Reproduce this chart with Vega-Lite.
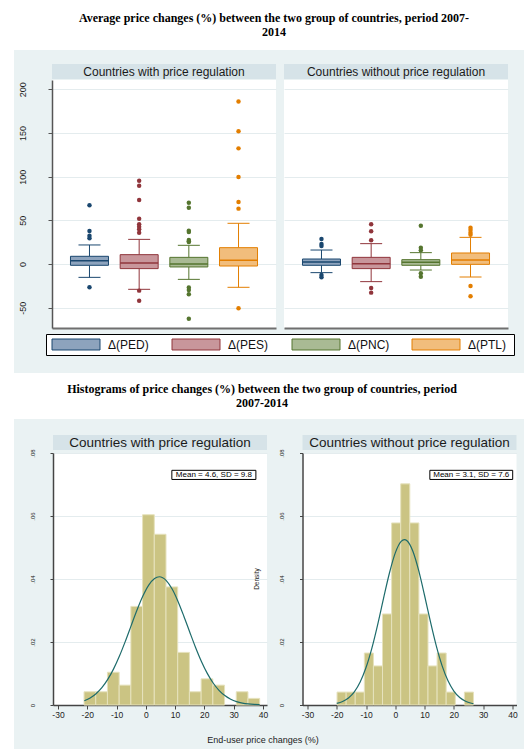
{
  "$schema": "https://vega.github.io/schema/vega-lite/v6.json",
  "background": "#eaf2f3",
  "padding": 0,
  "config": {
    "view": {"stroke": null},
    "font": "Liberation Sans",
    "axis": {"labelFont": "Liberation Sans", "labelOverlap": false, "labelBound": false},
    "axisX": {"labelOverlap": false},
    "axisQuantitative": {"labelOverlap": false},
    "text": {"font": "Liberation Sans"}
  },
  "datasets": {
    "boxstats": [
      {"group": "with", "series": "Δ(PED)", "lo": -15.3, "q1": -1.5, "med": 3.8, "q3": 8.8, "hi": 21.8},
      {"group": "with", "series": "Δ(PES)", "lo": -29, "q1": -5.3, "med": 1.1, "q3": 10.7, "hi": 28.2},
      {"group": "with", "series": "Δ(PNC)", "lo": -17.6, "q1": -3.4, "med": 0, "q3": 7.6, "hi": 21.4},
      {"group": "with", "series": "Δ(PTL)", "lo": -26.7, "q1": -2.3, "med": 4.2, "q3": 18.7, "hi": 46.6},
      {"group": "without", "series": "Δ(PED)", "lo": -9.9, "q1": -1.5, "med": 2.3, "q3": 5.7, "hi": 16},
      {"group": "without", "series": "Δ(PES)", "lo": -20.2, "q1": -5.3, "med": 0.4, "q3": 7.6, "hi": 23.3},
      {"group": "without", "series": "Δ(PNC)", "lo": -6.9, "q1": -1.5, "med": 1.9, "q3": 5, "hi": 13},
      {"group": "without", "series": "Δ(PTL)", "lo": -14.9, "q1": -0.4, "med": 4.6, "q3": 12.6, "hi": 30.5}
    ],
    "outliers": [
      {"group": "with", "series": "Δ(PED)", "value": 67.2},
      {"group": "with", "series": "Δ(PED)", "value": 37.8},
      {"group": "with", "series": "Δ(PED)", "value": 32.4},
      {"group": "with", "series": "Δ(PED)", "value": 29.4},
      {"group": "with", "series": "Δ(PED)", "value": -26.7},
      {"group": "with", "series": "Δ(PES)", "value": 95.4},
      {"group": "with", "series": "Δ(PES)", "value": 89.7},
      {"group": "with", "series": "Δ(PES)", "value": 73.3},
      {"group": "with", "series": "Δ(PES)", "value": 51.9},
      {"group": "with", "series": "Δ(PES)", "value": 45.4},
      {"group": "with", "series": "Δ(PES)", "value": 42.7},
      {"group": "with", "series": "Δ(PES)", "value": 39.7},
      {"group": "with", "series": "Δ(PES)", "value": 35.9},
      {"group": "with", "series": "Δ(PES)", "value": -30.5},
      {"group": "with", "series": "Δ(PES)", "value": -42},
      {"group": "with", "series": "Δ(PNC)", "value": 70.2},
      {"group": "with", "series": "Δ(PNC)", "value": 64.5},
      {"group": "with", "series": "Δ(PNC)", "value": 38.2},
      {"group": "with", "series": "Δ(PNC)", "value": 36.5},
      {"group": "with", "series": "Δ(PNC)", "value": 27.5},
      {"group": "with", "series": "Δ(PNC)", "value": 26},
      {"group": "with", "series": "Δ(PNC)", "value": 25.2},
      {"group": "with", "series": "Δ(PNC)", "value": -27},
      {"group": "with", "series": "Δ(PNC)", "value": -29.8},
      {"group": "with", "series": "Δ(PNC)", "value": -34.7},
      {"group": "with", "series": "Δ(PNC)", "value": -62.6},
      {"group": "with", "series": "Δ(PTL)", "value": 186},
      {"group": "with", "series": "Δ(PTL)", "value": 152},
      {"group": "with", "series": "Δ(PTL)", "value": 132.4},
      {"group": "with", "series": "Δ(PTL)", "value": 99.6},
      {"group": "with", "series": "Δ(PTL)", "value": 71},
      {"group": "with", "series": "Δ(PTL)", "value": 63.4},
      {"group": "with", "series": "Δ(PTL)", "value": -50.8},
      {"group": "without", "series": "Δ(PED)", "value": 28.6},
      {"group": "without", "series": "Δ(PED)", "value": 22.9},
      {"group": "without", "series": "Δ(PED)", "value": 20.6},
      {"group": "without", "series": "Δ(PED)", "value": -12.6},
      {"group": "without", "series": "Δ(PED)", "value": -15.3},
      {"group": "without", "series": "Δ(PES)", "value": 45.4},
      {"group": "without", "series": "Δ(PES)", "value": 37.4},
      {"group": "without", "series": "Δ(PES)", "value": 27.1},
      {"group": "without", "series": "Δ(PES)", "value": -27.5},
      {"group": "without", "series": "Δ(PES)", "value": -32.8},
      {"group": "without", "series": "Δ(PNC)", "value": 43.9},
      {"group": "without", "series": "Δ(PNC)", "value": 18.7},
      {"group": "without", "series": "Δ(PNC)", "value": 15.6},
      {"group": "without", "series": "Δ(PNC)", "value": -10.7},
      {"group": "without", "series": "Δ(PNC)", "value": -14.5},
      {"group": "without", "series": "Δ(PTL)", "value": 41.6},
      {"group": "without", "series": "Δ(PTL)", "value": 38.9},
      {"group": "without", "series": "Δ(PTL)", "value": 35.9},
      {"group": "without", "series": "Δ(PTL)", "value": 33.6},
      {"group": "without", "series": "Δ(PTL)", "value": -25.2},
      {"group": "without", "series": "Δ(PTL)", "value": -37}
    ],
    "hist": [
      {"group": "with", "bin_start": -21.1, "bin_end": -17.1, "density": 0.0042},
      {"group": "with", "bin_start": -17.1, "bin_end": -13.1, "density": 0.0042},
      {"group": "with", "bin_start": -13.1, "bin_end": -9.1, "density": 0.0104},
      {"group": "with", "bin_start": -9.1, "bin_end": -5.1, "density": 0.0063},
      {"group": "with", "bin_start": -5.1, "bin_end": -1.1, "density": 0.0313},
      {"group": "with", "bin_start": -1.1, "bin_end": 2.9, "density": 0.0604},
      {"group": "with", "bin_start": 2.9, "bin_end": 6.9, "density": 0.0542},
      {"group": "with", "bin_start": 6.9, "bin_end": 10.9, "density": 0.0375},
      {"group": "with", "bin_start": 10.9, "bin_end": 14.9, "density": 0.0167},
      {"group": "with", "bin_start": 14.9, "bin_end": 18.9, "density": 0.0042},
      {"group": "with", "bin_start": 18.9, "bin_end": 22.9, "density": 0.0083},
      {"group": "with", "bin_start": 22.9, "bin_end": 26.9, "density": 0.0063},
      {"group": "with", "bin_start": 30.9, "bin_end": 34.9, "density": 0.0042},
      {"group": "with", "bin_start": 34.9, "bin_end": 38.9, "density": 0.0021},
      {"group": "without", "bin_start": -19.9, "bin_end": -16.79, "density": 0.0041},
      {"group": "without", "bin_start": -16.79, "bin_end": -13.69, "density": 0.0041},
      {"group": "without", "bin_start": -13.69, "bin_end": -10.58, "density": 0.0041},
      {"group": "without", "bin_start": -10.58, "bin_end": -7.47, "density": 0.0165},
      {"group": "without", "bin_start": -7.47, "bin_end": -4.37, "density": 0.0124},
      {"group": "without", "bin_start": -4.37, "bin_end": -1.26, "density": 0.0289},
      {"group": "without", "bin_start": -1.26, "bin_end": 1.85, "density": 0.0578},
      {"group": "without", "bin_start": 1.85, "bin_end": 4.95, "density": 0.0702},
      {"group": "without", "bin_start": 4.95, "bin_end": 8.06, "density": 0.0578},
      {"group": "without", "bin_start": 8.06, "bin_end": 11.17, "density": 0.0289},
      {"group": "without", "bin_start": 11.17, "bin_end": 14.28, "density": 0.0124},
      {"group": "without", "bin_start": 14.28, "bin_end": 17.38, "density": 0.0165},
      {"group": "without", "bin_start": 17.38, "bin_end": 20.49, "density": 0.0041},
      {"group": "without", "bin_start": 23.6, "bin_end": 26.7, "density": 0.0041}
    ],
    "curve": [
      {"group": "with", "x": -21, "density": 0.00134},
      {"group": "with", "x": -19, "density": 0.00224},
      {"group": "with", "x": -17, "density": 0.00359},
      {"group": "with", "x": -15, "density": 0.00551},
      {"group": "with", "x": -13, "density": 0.00812},
      {"group": "with", "x": -11, "density": 0.01147},
      {"group": "with", "x": -9, "density": 0.01554},
      {"group": "with", "x": -7, "density": 0.0202},
      {"group": "with", "x": -5, "density": 0.0252},
      {"group": "with", "x": -3, "density": 0.03014},
      {"group": "with", "x": -1, "density": 0.03458},
      {"group": "with", "x": 1, "density": 0.03806},
      {"group": "with", "x": 3, "density": 0.04017},
      {"group": "with", "x": 4.6, "density": 0.04071},
      {"group": "with", "x": 7, "density": 0.03951},
      {"group": "with", "x": 9, "density": 0.03681},
      {"group": "with", "x": 11, "density": 0.03289},
      {"group": "with", "x": 13, "density": 0.0282},
      {"group": "with", "x": 15, "density": 0.02318},
      {"group": "with", "x": 17, "density": 0.01828},
      {"group": "with", "x": 19, "density": 0.01383},
      {"group": "with", "x": 21, "density": 0.01004},
      {"group": "with", "x": 23, "density": 0.00699},
      {"group": "with", "x": 25, "density": 0.00467},
      {"group": "with", "x": 27, "density": 0.00299},
      {"group": "with", "x": 29, "density": 0.00184},
      {"group": "with", "x": 31, "density": 0.00108},
      {"group": "with", "x": 33, "density": 0.00061},
      {"group": "with", "x": 35, "density": 0.00033},
      {"group": "with", "x": 37, "density": 0.00017},
      {"group": "with", "x": 38.9, "density": 0.00009},
      {"group": "without", "x": -20, "density": 0.00052},
      {"group": "without", "x": -18, "density": 0.00111},
      {"group": "without", "x": -16, "density": 0.00223},
      {"group": "without", "x": -14, "density": 0.00418},
      {"group": "without", "x": -12, "density": 0.0073},
      {"group": "without", "x": -10, "density": 0.01189},
      {"group": "without", "x": -8, "density": 0.01807},
      {"group": "without", "x": -6, "density": 0.02563},
      {"group": "without", "x": -4, "density": 0.03393},
      {"group": "without", "x": -2, "density": 0.04191},
      {"group": "without", "x": 0, "density": 0.0483},
      {"group": "without", "x": 2, "density": 0.05194},
      {"group": "without", "x": 3.1, "density": 0.05249},
      {"group": "without", "x": 4, "density": 0.05212},
      {"group": "without", "x": 6, "density": 0.0488},
      {"group": "without", "x": 8, "density": 0.04264},
      {"group": "without", "x": 10, "density": 0.03476},
      {"group": "without", "x": 12, "density": 0.02644},
      {"group": "without", "x": 14, "density": 0.01876},
      {"group": "without", "x": 16, "density": 0.01243},
      {"group": "without", "x": 18, "density": 0.00768},
      {"group": "without", "x": 20, "density": 0.00443},
      {"group": "without", "x": 22, "density": 0.00238},
      {"group": "without", "x": 24, "density": 0.0012},
      {"group": "without", "x": 26, "density": 0.00056},
      {"group": "without", "x": 26.7, "density": 0.0004}
    ],
    "notes": [
      {"group": "with", "label": "Mean = 4.6, SD = 9.8"},
      {"group": "without", "label": "Mean = 3.1, SD = 7.6"}
    ],
    "legend": [
      {"series": "Δ(PED)"},
      {"series": "Δ(PES)"},
      {"series": "Δ(PNC)"},
      {"series": "Δ(PTL)"}
    ]
  },
  "spacing": 0,
  "hconcat": [
    {"width": 14, "height": 749, "view": {"fill": "white"}, "data": {"values": []}, "mark": "point", "encoding": {}},
    {
      "spacing": 0,
      "bounds": "full",
      "vconcat": [
        {
          "width": 510, "height": 50, "view": {"fill": "white"},
          "data": {"values": [{"k": 1}]},
          "mark": {"type": "text", "text": ["Average price changes (%) between the two group of countries, period 2007-", "2014"], "font": "Liberation Serif", "fontWeight": "bold", "fontSize": 12, "lineHeight": 14, "dx": 5, "dy": -7, "color": "black"},
          "encoding": {}
        },
        {"width": 1, "height": 14, "data": {"values": []}, "mark": "point", "encoding": {}},
        {
          "spacing": 0,
          "bounds": "full",
          "hconcat": [
            {"width": 1, "height": 1, "data": {"values": []}, "mark": "point", "encoding": {}},
            {
              "spacing": 8,
              "bounds": "full",
              "hconcat": [
                {
                  "spacing": 1,
                  "bounds": "flush",
                  "vconcat": [
                    {
                      "width": 224, "height": 15, "view": {"fill": "#d6e3e8"},
                      "data": {"values": [{"title": "Countries with price regulation"}]},
                      "mark": {"type": "text", "fontSize": 12, "color": "#1a1a1a"},
                      "encoding": {"text": {"field": "title"}}
                    },
                    {
                      "width": 224, "height": 248, "view": {"fill": "white"},
                      "data": {"name": "boxstats"},
                      "transform": [{"filter": "datum.group == 'with'"}],
                      "layer": [
                        {"mark": {"type": "rule", "strokeWidth": 1, "opacity": 1},
                         "encoding": {
                           "x": {"field": "series", "type": "nominal", "scale": {"type": "band", "domain": ["Δ(PED)", "Δ(PES)", "Δ(PNC)", "Δ(PTL)"], "paddingInner": 0.235, "paddingOuter": 0.372},
                                 "axis": {"labels": false, "ticks": false, "title": null, "grid": false, "domainColor": "#6f6f6f", "domainWidth": 2, "minExtent": 0, "maxExtent": 0}},
                           "y": {"field": "lo", "type": "quantitative", "scale": {"domain": [-73.3, 210.7], "nice": false, "zero": false},
                                 "axis": {"values": [-50, 0, 50, 100, 150, 200], "labelExpr": "toString(datum.value)", "labelAngle": 270, "labelAlign": "center", "labelBaseline": "bottom", "labelPadding": 21, "labelFontSize": 9, "labelColor": "#222", "tickSize": 4, "tickColor": "#555", "domainColor": "#555", "domainWidth": 1.5, "grid": true, "gridColor": "#e4ecee", "title": null, "minExtent": 37, "maxExtent": 37}},
                           "y2": {"field": "q1"},
                           "color": {"field": "series", "type": "nominal", "scale": {"domain": ["Δ(PED)", "Δ(PES)", "Δ(PNC)", "Δ(PTL)"], "range": ["#1a476f", "#90353b", "#55752f", "#e37e00"]}, "legend": null}
                         }},
                        {"mark": {"type": "rule", "strokeWidth": 1, "opacity": 1},
                         "encoding": {
                           "x": {"field": "series", "type": "nominal"},
                           "y": {"field": "q3", "type": "quantitative", "scale": {"domain": [-73.3, 210.7], "nice": false, "zero": false}},
                           "y2": {"field": "hi"},
                           "color": {"field": "series", "type": "nominal", "scale": {"domain": ["Δ(PED)", "Δ(PES)", "Δ(PNC)", "Δ(PTL)"], "range": ["#1a476f", "#90353b", "#55752f", "#e37e00"]}, "legend": null}
                         }},
                        {"mark": {"type": "tick", "size": 22, "thickness": 1, "opacity": 1},
                         "encoding": {
                           "x": {"field": "series", "type": "nominal"},
                           "y": {"field": "lo", "type": "quantitative", "scale": {"domain": [-73.3, 210.7], "nice": false, "zero": false}},
                           "color": {"field": "series", "type": "nominal", "scale": {"domain": ["Δ(PED)", "Δ(PES)", "Δ(PNC)", "Δ(PTL)"], "range": ["#1a476f", "#90353b", "#55752f", "#e37e00"]}, "legend": null}
                         }},
                        {"mark": {"type": "tick", "size": 22, "thickness": 1, "opacity": 1},
                         "encoding": {
                           "x": {"field": "series", "type": "nominal"},
                           "y": {"field": "hi", "type": "quantitative", "scale": {"domain": [-73.3, 210.7], "nice": false, "zero": false}},
                           "color": {"field": "series", "type": "nominal", "scale": {"domain": ["Δ(PED)", "Δ(PES)", "Δ(PNC)", "Δ(PTL)"], "range": ["#1a476f", "#90353b", "#55752f", "#e37e00"]}, "legend": null}
                         }},
                        {"mark": {"type": "bar", "strokeWidth": 1, "opacity": 1},
                         "encoding": {
                           "x": {"field": "series", "type": "nominal"},
                           "y": {"field": "q1", "type": "quantitative", "scale": {"domain": [-73.3, 210.7], "nice": false, "zero": false}},
                           "y2": {"field": "q3"},
                           "fill": {"field": "series", "type": "nominal", "scale": {"domain": ["Δ(PED)", "Δ(PES)", "Δ(PNC)", "Δ(PTL)"], "range": ["#8da3bd", "#c8969b", "#a9ba94", "#f1bd7c"]}, "legend": null},
                           "stroke": {"field": "series", "type": "nominal", "scale": {"domain": ["Δ(PED)", "Δ(PES)", "Δ(PNC)", "Δ(PTL)"], "range": ["#1a476f", "#90353b", "#55752f", "#e37e00"]}, "legend": null}
                         }},
                        {"mark": {"type": "tick", "size": 38, "thickness": 1.5, "opacity": 1},
                         "encoding": {
                           "x": {"field": "series", "type": "nominal"},
                           "y": {"field": "med", "type": "quantitative", "scale": {"domain": [-73.3, 210.7], "nice": false, "zero": false}},
                           "color": {"field": "series", "type": "nominal", "scale": {"domain": ["Δ(PED)", "Δ(PES)", "Δ(PNC)", "Δ(PTL)"], "range": ["#1a476f", "#90353b", "#55752f", "#e37e00"]}, "legend": null}
                         }},
                        {"data": {"name": "outliers"},
                         "transform": [{"filter": "datum.group == 'with'"}],
                         "mark": {"type": "point", "filled": true, "size": 20, "opacity": 1},
                         "encoding": {
                           "x": {"field": "series", "type": "nominal"},
                           "y": {"field": "value", "type": "quantitative", "scale": {"domain": [-73.3, 210.7], "nice": false, "zero": false}},
                           "color": {"field": "series", "type": "nominal", "scale": {"domain": ["Δ(PED)", "Δ(PES)", "Δ(PNC)", "Δ(PTL)"], "range": ["#1a476f", "#90353b", "#55752f", "#e37e00"]}, "legend": null}
                         }}
                      ]
                    }
                  ]
                },
                {
                  "spacing": 1,
                  "bounds": "flush",
                  "vconcat": [
                    {
                      "width": 224, "height": 15, "view": {"fill": "#d6e3e8"},
                      "data": {"values": [{"title": "Countries without price regulation"}]},
                      "mark": {"type": "text", "fontSize": 12, "color": "#1a1a1a"},
                      "encoding": {"text": {"field": "title"}}
                    },
                    {
                      "width": 224, "height": 248, "view": {"fill": "white"},
                      "data": {"name": "boxstats"},
                      "transform": [{"filter": "datum.group == 'without'"}],
                      "layer": [
                        {"mark": {"type": "rule", "strokeWidth": 1, "opacity": 1},
                         "encoding": {
                           "x": {"field": "series", "type": "nominal", "scale": {"type": "band", "domain": ["Δ(PED)", "Δ(PES)", "Δ(PNC)", "Δ(PTL)"], "paddingInner": 0.235, "paddingOuter": 0.372},
                                 "axis": {"labels": false, "ticks": false, "title": null, "grid": false, "domainColor": "#6f6f6f", "domainWidth": 2, "minExtent": 0, "maxExtent": 0}},
                           "y": {"field": "lo", "type": "quantitative", "scale": {"domain": [-73.3, 210.7], "nice": false, "zero": false},
                                 "axis": {"values": [-50, 0, 50, 100, 150, 200], "labels": false, "ticks": false, "domain": false, "grid": true, "gridColor": "#e4ecee", "title": null, "minExtent": 0, "maxExtent": 0}},
                           "y2": {"field": "q1"},
                           "color": {"field": "series", "type": "nominal", "scale": {"domain": ["Δ(PED)", "Δ(PES)", "Δ(PNC)", "Δ(PTL)"], "range": ["#1a476f", "#90353b", "#55752f", "#e37e00"]}, "legend": null}
                         }},
                        {"mark": {"type": "rule", "strokeWidth": 1, "opacity": 1},
                         "encoding": {
                           "x": {"field": "series", "type": "nominal"},
                           "y": {"field": "q3", "type": "quantitative", "scale": {"domain": [-73.3, 210.7], "nice": false, "zero": false}},
                           "y2": {"field": "hi"},
                           "color": {"field": "series", "type": "nominal", "scale": {"domain": ["Δ(PED)", "Δ(PES)", "Δ(PNC)", "Δ(PTL)"], "range": ["#1a476f", "#90353b", "#55752f", "#e37e00"]}, "legend": null}
                         }},
                        {"mark": {"type": "tick", "size": 22, "thickness": 1, "opacity": 1},
                         "encoding": {
                           "x": {"field": "series", "type": "nominal"},
                           "y": {"field": "lo", "type": "quantitative", "scale": {"domain": [-73.3, 210.7], "nice": false, "zero": false}},
                           "color": {"field": "series", "type": "nominal", "scale": {"domain": ["Δ(PED)", "Δ(PES)", "Δ(PNC)", "Δ(PTL)"], "range": ["#1a476f", "#90353b", "#55752f", "#e37e00"]}, "legend": null}
                         }},
                        {"mark": {"type": "tick", "size": 22, "thickness": 1, "opacity": 1},
                         "encoding": {
                           "x": {"field": "series", "type": "nominal"},
                           "y": {"field": "hi", "type": "quantitative", "scale": {"domain": [-73.3, 210.7], "nice": false, "zero": false}},
                           "color": {"field": "series", "type": "nominal", "scale": {"domain": ["Δ(PED)", "Δ(PES)", "Δ(PNC)", "Δ(PTL)"], "range": ["#1a476f", "#90353b", "#55752f", "#e37e00"]}, "legend": null}
                         }},
                        {"mark": {"type": "bar", "strokeWidth": 1, "opacity": 1},
                         "encoding": {
                           "x": {"field": "series", "type": "nominal"},
                           "y": {"field": "q1", "type": "quantitative", "scale": {"domain": [-73.3, 210.7], "nice": false, "zero": false}},
                           "y2": {"field": "q3"},
                           "fill": {"field": "series", "type": "nominal", "scale": {"domain": ["Δ(PED)", "Δ(PES)", "Δ(PNC)", "Δ(PTL)"], "range": ["#8da3bd", "#c8969b", "#a9ba94", "#f1bd7c"]}, "legend": null},
                           "stroke": {"field": "series", "type": "nominal", "scale": {"domain": ["Δ(PED)", "Δ(PES)", "Δ(PNC)", "Δ(PTL)"], "range": ["#1a476f", "#90353b", "#55752f", "#e37e00"]}, "legend": null}
                         }},
                        {"mark": {"type": "tick", "size": 38, "thickness": 1.5, "opacity": 1},
                         "encoding": {
                           "x": {"field": "series", "type": "nominal"},
                           "y": {"field": "med", "type": "quantitative", "scale": {"domain": [-73.3, 210.7], "nice": false, "zero": false}},
                           "color": {"field": "series", "type": "nominal", "scale": {"domain": ["Δ(PED)", "Δ(PES)", "Δ(PNC)", "Δ(PTL)"], "range": ["#1a476f", "#90353b", "#55752f", "#e37e00"]}, "legend": null}
                         }},
                        {"data": {"name": "outliers"},
                         "transform": [{"filter": "datum.group == 'without'"}],
                         "mark": {"type": "point", "filled": true, "size": 20, "opacity": 1},
                         "encoding": {
                           "x": {"field": "series", "type": "nominal"},
                           "y": {"field": "value", "type": "quantitative", "scale": {"domain": [-73.3, 210.7], "nice": false, "zero": false}},
                           "color": {"field": "series", "type": "nominal", "scale": {"domain": ["Δ(PED)", "Δ(PES)", "Δ(PNC)", "Δ(PTL)"], "range": ["#1a476f", "#90353b", "#55752f", "#e37e00"]}, "legend": null}
                         }}
                      ]
                    }
                  ]
                }
              ]
            }
          ]
        },
        {"width": 1, "height": 5, "data": {"values": []}, "mark": "point", "encoding": {}},
        {
          "spacing": 0,
          "hconcat": [
            {"width": 31, "height": 1, "data": {"values": []}, "mark": "point", "encoding": {}},
            {
              "width": 468, "height": 21,
              "view": {"fill": "white", "stroke": "black", "strokeWidth": 1},
              "data": {"name": "legend"},
              "layer": [
                {"mark": {"type": "point", "shape": "M-1,-0.229H1V0.229H-1Z", "size": 2304, "filled": true, "opacity": 1, "strokeWidth": 1, "xOffset": -30},
                 "encoding": {
                   "x": {"field": "series", "type": "nominal", "scale": {"type": "band", "domain": ["Δ(PED)", "Δ(PES)", "Δ(PNC)", "Δ(PTL)"], "range": [0, 480], "paddingInner": 0, "paddingOuter": 0}, "axis": null},
                   "fill": {"field": "series", "type": "nominal", "scale": {"domain": ["Δ(PED)", "Δ(PES)", "Δ(PNC)", "Δ(PTL)"], "range": ["#8da3bd", "#c8969b", "#a9ba94", "#f1bd7c"]}, "legend": null},
                   "stroke": {"field": "series", "type": "nominal", "scale": {"domain": ["Δ(PED)", "Δ(PES)", "Δ(PNC)", "Δ(PTL)"], "range": ["#1a476f", "#90353b", "#55752f", "#e37e00"]}, "legend": null}
                 }},
                {"mark": {"type": "text", "align": "left", "dx": 2, "fontSize": 12, "color": "#111"},
                 "encoding": {
                   "x": {"field": "series", "type": "nominal"},
                   "text": {"field": "series"}
                 }}
              ]
            }
          ]
        },
        {"width": 1, "height": 17, "data": {"values": []}, "mark": "point", "encoding": {}},
        {
          "width": 510, "height": 46, "view": {"fill": "white"},
          "data": {"values": [{"k": 1}]},
          "mark": {"type": "text", "text": ["Histograms of price changes (%) between the two group of countries, period", "2007-2014"], "font": "Liberation Serif", "fontWeight": "bold", "fontSize": 12, "lineHeight": 14, "dx": -7, "dy": -7.5, "color": "black"},
          "encoding": {}
        },
        {"width": 1, "height": 15.5, "data": {"values": []}, "mark": "point", "encoding": {}},
        {
          "spacing": 0,
          "bounds": "full",
          "hconcat": [
            {"width": 1, "height": 1, "data": {"values": []}, "mark": "point", "encoding": {}},
            {
              "spacing": 8.5,
              "bounds": "full",
              "hconcat": [
                {
                  "spacing": 3,
                  "bounds": "flush",
                  "vconcat": [
                    {
                      "width": 214, "height": 15, "view": {"fill": "#d6e3e8"},
                      "data": {"values": [{"title": "Countries with price regulation"}]},
                      "mark": {"type": "text", "fontSize": 13.5, "color": "#1a1a1a"},
                      "encoding": {"text": {"field": "title"}}
                    },
                    {
                      "width": 214, "height": 252, "view": {"fill": "white"},
                      "layer": [
                        {"data": {"name": "hist"},
                         "transform": [{"filter": "datum.group == 'with'"}],
                         "mark": {"type": "rect", "fill": "#cbc483", "stroke": "#e6e2bd", "strokeWidth": 1, "opacity": 1},
                         "encoding": {
                           "x": {"field": "bin_start", "type": "quantitative", "scale": {"domain": [-31.7, 41.4], "nice": false, "zero": false},
                                 "axis": {"values": [-30, -20, -10, 0, 10, 20, 30, 40], "labelExpr": "toString(datum.value)", "labelFontSize": 8.5, "labelPadding": 1, "labelColor": "#222", "tickSize": 4, "tickColor": "#444", "domainColor": "#444", "domainWidth": 1.5, "grid": false, "title": null, "labelFlush": false, "labelOverlap": false, "labelSeparation": 0, "minExtent": 14, "maxExtent": 14}},
                           "x2": {"field": "bin_end"},
                           "y": {"field": "density", "type": "quantitative", "scale": {"domain": [0, 0.08], "nice": false, "zero": false},
                                 "axis": {"values": [0, 0.02, 0.04, 0.06, 0.08], "labelExpr": "datum.value == 0 ? '0' : replace(format(datum.value, '.2f'), '0.', '.')", "labelAngle": 270, "labelAlign": "center", "labelBaseline": "bottom", "labelFontSize": 6, "labelPadding": 15, "labelColor": "#222", "tickSize": 3, "tickColor": "#444", "domainColor": "#444", "domainWidth": 1.5, "grid": true, "gridColor": "#e4ecee", "title": null, "minExtent": 38, "maxExtent": 38}},
                           "y2": {"datum": 0}
                         }},
                        {"data": {"name": "curve"},
                         "transform": [{"filter": "datum.group == 'with'"}],
                         "mark": {"type": "line", "color": "#1d6b6b", "strokeWidth": 1.2, "interpolate": "monotone"},
                         "encoding": {
                           "x": {"field": "x", "type": "quantitative", "scale": {"domain": [-31.7, 41.4], "nice": false, "zero": false},
                                 "axis": {"values": [-30, -20, -10, 0, 10, 20, 30, 40], "labelExpr": "toString(datum.value)", "labelFontSize": 8.5, "labelPadding": 1, "labelColor": "#222", "tickSize": 4, "tickColor": "#444", "domainColor": "#444", "domainWidth": 1.5, "grid": false, "title": null, "labelFlush": false, "labelOverlap": false, "labelSeparation": 0, "minExtent": 14, "maxExtent": 14}},
                           "y": {"field": "density", "type": "quantitative", "scale": {"domain": [0, 0.08], "nice": false, "zero": false}}
                         }},
                        {"data": {"name": "notes"},
                         "transform": [{"filter": "datum.group == 'with'"}],
                         "mark": {"type": "rect", "fill": "white", "stroke": "black", "strokeWidth": 1},
                         "encoding": {
                           "x": {"datum": 8.9, "type": "quantitative", "scale": {"domain": [-31.7, 41.4], "nice": false, "zero": false},
                                 "axis": {"values": [-30, -20, -10, 0, 10, 20, 30, 40], "labelExpr": "toString(datum.value)", "labelFontSize": 8.5, "labelPadding": 1, "labelColor": "#222", "tickSize": 4, "tickColor": "#444", "domainColor": "#444", "domainWidth": 1.5, "grid": false, "title": null, "labelFlush": false, "labelOverlap": false, "labelSeparation": 0, "minExtent": 14, "maxExtent": 14}},
                           "x2": {"datum": 37.6},
                           "y": {"datum": 0.0745, "type": "quantitative", "scale": {"domain": [0, 0.08], "nice": false, "zero": false}},
                           "y2": {"datum": 0.0716}
                         }},
                        {"data": {"name": "notes"},
                         "transform": [{"filter": "datum.group == 'with'"}],
                         "mark": {"type": "text", "fontSize": 8, "color": "black"},
                         "encoding": {
                           "x": {"datum": 23.25, "type": "quantitative", "scale": {"domain": [-31.7, 41.4], "nice": false, "zero": false},
                                 "axis": {"values": [-30, -20, -10, 0, 10, 20, 30, 40], "labelExpr": "toString(datum.value)", "labelFontSize": 8.5, "labelPadding": 1, "labelColor": "#222", "tickSize": 4, "tickColor": "#444", "domainColor": "#444", "domainWidth": 1.5, "grid": false, "title": null, "labelFlush": false, "labelOverlap": false, "labelSeparation": 0, "minExtent": 14, "maxExtent": 14}},
                           "y": {"datum": 0.07305, "type": "quantitative", "scale": {"domain": [0, 0.08], "nice": false, "zero": false}},
                           "text": {"field": "label"}
                         }},
                        {"data": {"values": [{"label": "Density"}]},
                         "mark": {"type": "text", "angle": 270, "fontSize": 6.5, "color": "#222"},
                         "encoding": {
                           "x": {"datum": 38, "type": "quantitative", "scale": {"domain": [-31.7, 41.4], "nice": false, "zero": false},
                                 "axis": {"values": [-30, -20, -10, 0, 10, 20, 30, 40], "labelExpr": "toString(datum.value)", "labelFontSize": 8.5, "labelPadding": 1, "labelColor": "#222", "tickSize": 4, "tickColor": "#444", "domainColor": "#444", "domainWidth": 1.5, "grid": false, "title": null, "labelFlush": false, "labelOverlap": false, "labelSeparation": 0, "minExtent": 14, "maxExtent": 14}},
                           "y": {"datum": 0.04, "type": "quantitative", "scale": {"domain": [0, 0.08], "nice": false, "zero": false}},
                           "text": {"field": "label"}
                         }}
                      ]
                    }
                  ]
                },
                {
                  "spacing": 3,
                  "bounds": "flush",
                  "vconcat": [
                    {
                      "width": 214, "height": 15, "view": {"fill": "#d6e3e8"},
                      "data": {"values": [{"title": "Countries without price regulation"}]},
                      "mark": {"type": "text", "fontSize": 13.5, "color": "#1a1a1a"},
                      "encoding": {"text": {"field": "title"}}
                    },
                    {
                      "width": 214, "height": 252, "view": {"fill": "white"},
                      "layer": [
                        {"data": {"name": "hist"},
                         "transform": [{"filter": "datum.group == 'without'"}],
                         "mark": {"type": "rect", "fill": "#cbc483", "stroke": "#e6e2bd", "strokeWidth": 1, "opacity": 1},
                         "encoding": {
                           "x": {"field": "bin_start", "type": "quantitative", "scale": {"domain": [-31.7, 41.4], "nice": false, "zero": false},
                                 "axis": {"values": [-30, -20, -10, 0, 10, 20, 30, 40], "labelExpr": "toString(datum.value)", "labelFontSize": 8.5, "labelPadding": 1, "labelColor": "#222", "tickSize": 4, "tickColor": "#444", "domainColor": "#444", "domainWidth": 1.5, "grid": false, "title": null, "labelFlush": false, "labelOverlap": false, "labelSeparation": 0, "minExtent": 14, "maxExtent": 14}},
                           "x2": {"field": "bin_end"},
                           "y": {"field": "density", "type": "quantitative", "scale": {"domain": [0, 0.08], "nice": false, "zero": false},
                                 "axis": {"values": [0, 0.02, 0.04, 0.06, 0.08], "labelExpr": "datum.value == 0 ? '0' : replace(format(datum.value, '.2f'), '0.', '.')", "labelAngle": 270, "labelAlign": "center", "labelBaseline": "bottom", "labelFontSize": 6, "labelPadding": 15, "labelColor": "#222", "tickSize": 3, "tickColor": "#444", "domainColor": "#444", "domainWidth": 1.5, "grid": true, "gridColor": "#e4ecee", "title": null, "minExtent": 26, "maxExtent": 26}},
                           "y2": {"datum": 0}
                         }},
                        {"data": {"name": "curve"},
                         "transform": [{"filter": "datum.group == 'without'"}],
                         "mark": {"type": "line", "color": "#1d6b6b", "strokeWidth": 1.2, "interpolate": "monotone"},
                         "encoding": {
                           "x": {"field": "x", "type": "quantitative", "scale": {"domain": [-31.7, 41.4], "nice": false, "zero": false},
                                 "axis": {"values": [-30, -20, -10, 0, 10, 20, 30, 40], "labelExpr": "toString(datum.value)", "labelFontSize": 8.5, "labelPadding": 1, "labelColor": "#222", "tickSize": 4, "tickColor": "#444", "domainColor": "#444", "domainWidth": 1.5, "grid": false, "title": null, "labelFlush": false, "labelOverlap": false, "labelSeparation": 0, "minExtent": 14, "maxExtent": 14}},
                           "y": {"field": "density", "type": "quantitative", "scale": {"domain": [0, 0.08], "nice": false, "zero": false}}
                         }},
                        {"data": {"name": "notes"},
                         "transform": [{"filter": "datum.group == 'without'"}],
                         "mark": {"type": "rect", "fill": "white", "stroke": "black", "strokeWidth": 1},
                         "encoding": {
                           "x": {"datum": 11.8, "type": "quantitative", "scale": {"domain": [-31.7, 41.4], "nice": false, "zero": false},
                                 "axis": {"values": [-30, -20, -10, 0, 10, 20, 30, 40], "labelExpr": "toString(datum.value)", "labelFontSize": 8.5, "labelPadding": 1, "labelColor": "#222", "tickSize": 4, "tickColor": "#444", "domainColor": "#444", "domainWidth": 1.5, "grid": false, "title": null, "labelFlush": false, "labelOverlap": false, "labelSeparation": 0, "minExtent": 14, "maxExtent": 14}},
                           "x2": {"datum": 40.1},
                           "y": {"datum": 0.0745, "type": "quantitative", "scale": {"domain": [0, 0.08], "nice": false, "zero": false}},
                           "y2": {"datum": 0.0716}
                         }},
                        {"data": {"name": "notes"},
                         "transform": [{"filter": "datum.group == 'without'"}],
                         "mark": {"type": "text", "fontSize": 8, "color": "black"},
                         "encoding": {
                           "x": {"datum": 25.95, "type": "quantitative", "scale": {"domain": [-31.7, 41.4], "nice": false, "zero": false},
                                 "axis": {"values": [-30, -20, -10, 0, 10, 20, 30, 40], "labelExpr": "toString(datum.value)", "labelFontSize": 8.5, "labelPadding": 1, "labelColor": "#222", "tickSize": 4, "tickColor": "#444", "domainColor": "#444", "domainWidth": 1.5, "grid": false, "title": null, "labelFlush": false, "labelOverlap": false, "labelSeparation": 0, "minExtent": 14, "maxExtent": 14}},
                           "y": {"datum": 0.07305, "type": "quantitative", "scale": {"domain": [0, 0.08], "nice": false, "zero": false}},
                           "text": {"field": "label"}
                         }}
                      ]
                    }
                  ]
                }
              ]
            }
          ]
        },
        {
          "width": 510, "height": 31,
          "data": {"values": [{"label": "End-user price changes (%)"}]},
          "mark": {"type": "text", "fontSize": 9, "color": "#222", "dx": -6, "dy": 5.5},
          "encoding": {"text": {"field": "label"}}
        }
      ]
    }
  ]
}
